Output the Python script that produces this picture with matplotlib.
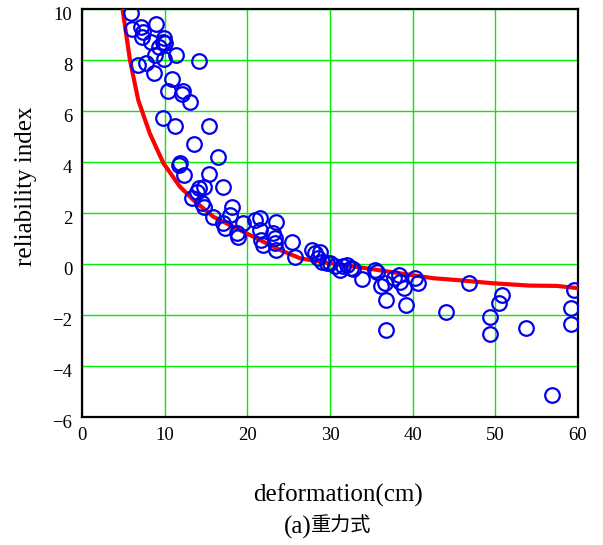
import numpy as np
import matplotlib.pyplot as plt
from matplotlib.transforms import ScaledTranslation

# ========== Data ==========
obs_x = [5.9, 6.1, 7.1, 7.4, 7.3, 9.0, 8.3, 9.96, 9.8, 9.35, 10.1, 8.8, 11.4, 14.2,
         9.9, 6.8, 7.8, 8.75, 10.85, 10.4, 12.25, 12.05, 13.1,
         9.8, 11.2, 15.4, 13.6, 16.4, 11.85, 11.7, 12.3, 15.4, 17.1, 14.7, 14.1,
         13.9, 13.3, 14.5, 14.8, 18.1, 17.9, 15.9, 17.1, 17.3, 18.7, 18.9, 19.5,
         20.9, 21.5, 21.5, 21.7, 21.9, 23.5, 23.1, 23.3, 23.3, 23.5, 25.4, 25.8,
         27.8, 28.2, 28.8, 28.6, 29.0, 29.6, 30.0, 30.6, 31.2, 31.6, 32.0, 32.6,
         32.8, 33.9, 35.4, 35.7, 36.2, 36.7, 36.8, 36.8, 38.3, 37.8, 38.5, 38.9,
         39.2, 40.3, 40.7, 44.0, 46.8, 49.4, 49.4, 50.4, 50.8, 53.7, 56.8, 59.5,
         59.2, 59.2]
obs_y = [9.86, 9.2, 9.3, 9.1, 8.9, 9.4, 8.7, 8.85, 8.7, 8.5, 8.65, 8.2, 8.2, 7.96,
         8.03, 7.8, 7.9, 7.5, 7.25, 6.8, 6.8, 6.65, 6.37,
         5.74, 5.41, 5.41, 4.7, 4.2, 3.97, 3.88, 3.49, 3.53, 3.03, 3.0, 2.97,
         2.84, 2.6, 2.38, 2.22, 2.25, 1.92, 1.85, 1.6, 1.4, 1.2, 1.07, 1.6,
         1.73, 1.79, 1.33, 0.94, 0.75, 1.66, 1.2, 1.0, 0.81, 0.55, 0.87, 0.29,
         0.55, 0.42, 0.48, 0.22, 0.09, 0.03, 0.03, -0.1, -0.24, -0.1, -0.04, -0.17,
         -0.2, -0.6, -0.24, -0.3, -0.86, -0.76, -1.41, -2.59, -0.43, -0.56, -0.69, -0.95,
         -1.61, -0.56, -0.73, -1.9, -0.73, -2.07, -2.76, -1.52, -1.22, -2.52, -5.14, -1.02,
         -1.74, -2.37]

curve_x = [4.9, 5.8, 6.8, 8.2, 9.85, 11.85, 13.5, 15.9, 19.9, 23.95, 26.4, 30.0,
           34.4, 38.5, 42.5, 45.3, 49.8, 54.2, 57.4, 60.0]
curve_y = [10.0, 8.0, 6.43, 5.12, 3.95, 3.03, 2.5, 1.85, 1.2, 0.55, 0.22, 0.03,
           -0.17, -0.37, -0.56, -0.63, -0.76, -0.85, -0.86, -0.95]

x_ticks = [0, 10, 20, 30, 40, 50, 60]
y_ticks = [-6, -4, -2, 0, 2, 4, 6, 8, 10]

serif = ['Liberation Serif', 'DejaVu Serif']
cjk = ['Noto Sans CJK SC', 'DejaVu Sans']

# ========== Plot ==========
fig = plt.figure(figsize=(6.03, 5.45), dpi=100)
ax = fig.add_axes([0.136, 0.235, 0.8225, 0.7485])

ax.plot(curve_x, curve_y, color='red', lw=3.0, zorder=3)
ax.plot(obs_x, obs_y, 'o', ms=10.5, mfc='none', mec='#0000ee', mew=1.6, zorder=4)

ax.set_xlim(0, 60)
ax.set_ylim(-6, 10)
ax.set_xticks(x_ticks)
ax.set_yticks(y_ticks)
ax.set_xticklabels([str(v) for v in x_ticks], fontfamily=serif, fontsize=13.5)
ax.set_yticklabels([str(v).replace('-', '\u2212') for v in y_ticks], fontfamily=serif, fontsize=13.5)
ax.tick_params(length=0, pad=7)
# y tick labels sit a little below their grid lines in the original
shift = ScaledTranslation(0, -3 / 72, fig.dpi_scale_trans)
for lab in ax.get_yticklabels():
    lab.set_transform(lab.get_transform() + shift)
ax.grid(True, color='#00ee00', lw=1.0)
ax.set_axisbelow(True)
for s in ax.spines.values():
    s.set_linewidth(1.6)
    s.set_color('black')

fig.text(0.043, 0.659, 'reliability index', fontfamily=serif, fontsize=18,
         rotation=90, ha='center', va='center')
fig.text(0.561, 0.092, 'deformation(cm)', fontfamily=serif, fontsize=18, ha='center', va='center')
fig.text(0.516, 0.033, '(a)', fontfamily=serif, fontsize=18, ha='right', va='center')
fig.text(0.516, 0.036, '重力式', fontfamily=cjk, fontsize=14.5, ha='left', va='center')

fig.savefig('out.png', dpi=100)
